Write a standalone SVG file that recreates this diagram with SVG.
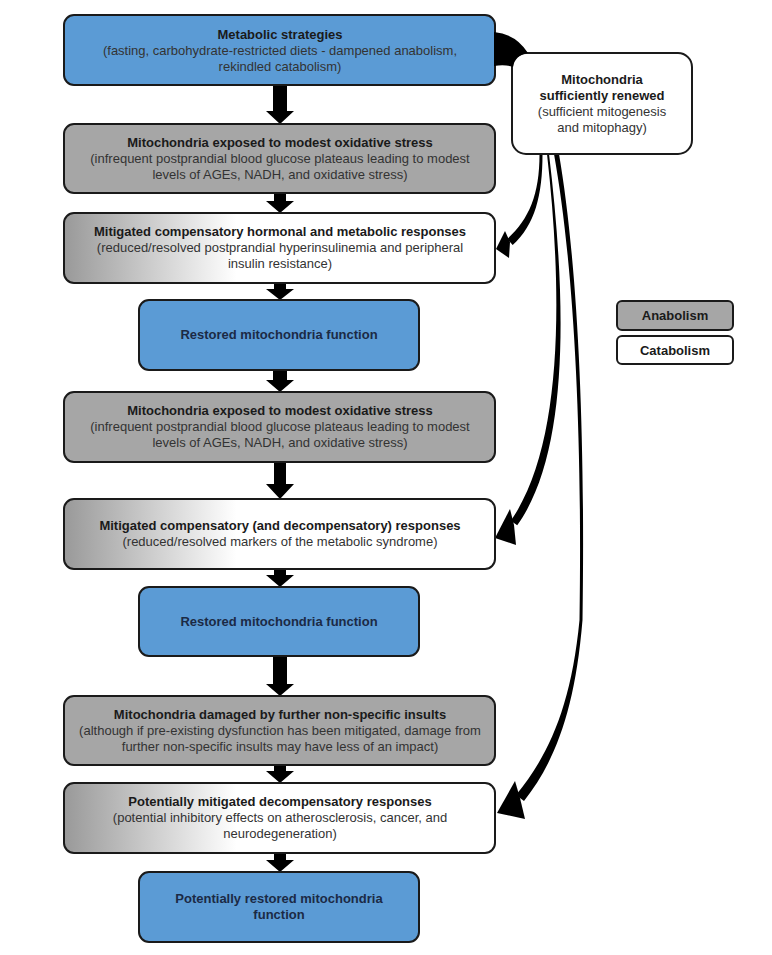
<svg xmlns="http://www.w3.org/2000/svg" width="772" height="955" viewBox="0 0 772 955">
<defs>
<linearGradient id="gr" x1="0" y1="0" x2="1" y2="0">
<stop offset="0" stop-color="#999999"/>
<stop offset="0.4" stop-color="#ffffff"/>
<stop offset="1" stop-color="#ffffff"/>
</linearGradient>
<style>
.box{stroke:#1a1a1a;stroke-width:2}
.blue{fill:#5b9bd5}
.gray{fill:#a6a6a6}
.grad{fill:url(#gr)}
.white{fill:#ffffff}
text{font-family:"Liberation Sans",Arial,sans-serif;font-size:13px;text-anchor:middle}
.t{font-weight:bold;fill:#1a1a1a}
.tb{font-weight:bold;fill:#1b2a45}
.s{fill:#333333}
.arr{fill:#000000}
</style>
</defs>
<rect width="772" height="955" fill="#ffffff"/>

<g id="connectors">
<!-- vertical arrows -->
<polygon class="arr" points="273,85 287,85 287,111 294,111 280,124 266,111 273,111"/>
<polygon class="arr" points="274,193 286,193 286,201 294,201 280,213 266,201 274,201"/>
<polygon class="arr" points="274,283 286,283 286,289 294,289 280,300 266,289 274,289"/>
<polygon class="arr" points="273,370 287,370 287,380 294,380 280,392 266,380 273,380"/>
<polygon class="arr" points="274,462 286,462 286,484 294,484 280,499 266,484 274,484"/>
<polygon class="arr" points="274,569 286,569 286,575 294,575 280,587 266,575 274,575"/>
<polygon class="arr" points="273,656 287,656 287,684 294,684 280,696 266,684 273,684"/>
<polygon class="arr" points="274,765 286,765 286,771 294,771 280,783 266,771 274,771"/>
<polygon class="arr" points="274,853 286,853 286,860 294,860 280,872 266,860 274,860"/>
<!-- curved arrow 1 -->
<path class="arr" d="M539.5,154 C539.5,195 529,219 507.3,239 L512.7,245 C535,225 542.5,195 542.5,154 Z"/>
<polygon class="arr" points="496,249 505,231 510,242 509,258"/>
<!-- curved arrow 2 -->
<path class="arr" d="M547,154 C563.5,300 562,448 510.8,520.7 L517.2,525.3 C570,452 566.5,300 549,154 Z"/>
<polygon class="arr" points="495,538 510,509 514,525 516,545"/>
<!-- curved arrow 3 -->
<path class="arr" d="M554,154 C573,260 582.5,420 579.5,620 C571,708 548,756 516,795 L524,801 C554,763 575,712 582.5,620 C585.5,420 577,260 559,154 Z"/>
<polygon class="arr" points="497,813 515,781 520,798 525,819"/>
</g>

<g id="n1">
<rect class="box blue" x="64" y="15" width="431" height="70" rx="10"/>
<text class="t" x="280" y="39">Metabolic strategies</text>
<text class="s" x="280" y="55">(fasting, carbohydrate-restricted diets - dampened anabolism,</text>
<text class="s" x="280" y="71">rekindled catabolism)</text>
</g>

<g id="n2">
<rect class="box gray" x="64" y="124" width="431" height="69" rx="10"/>
<text class="t" x="280" y="147">Mitochondria exposed to modest oxidative stress</text>
<text class="s" x="280" y="163">(infrequent postprandial blood glucose plateaus leading to modest</text>
<text class="s" x="280" y="179">levels of AGEs, NADH, and oxidative stress)</text>
</g>

<g id="n3">
<rect class="box grad" x="64" y="213" width="431" height="70" rx="10"/>
<text class="t" x="280" y="236">Mitigated compensatory hormonal and metabolic responses</text>
<text class="s" x="280" y="252">(reduced/resolved postprandial hyperinsulinemia and peripheral</text>
<text class="s" x="280" y="268">insulin resistance)</text>
</g>

<g id="n4">
<rect class="box blue" x="139" y="300" width="280" height="70" rx="10"/>
<text class="tb" x="279" y="339">Restored mitochondria function</text>
</g>

<g id="n5">
<rect class="box gray" x="64" y="392" width="431" height="70" rx="10"/>
<text class="t" x="280" y="415">Mitochondria exposed to modest oxidative stress</text>
<text class="s" x="280" y="431">(infrequent postprandial blood glucose plateaus leading to modest</text>
<text class="s" x="280" y="447">levels of AGEs, NADH, and oxidative stress)</text>
</g>

<g id="n6">
<rect class="box grad" x="64" y="499" width="431" height="70" rx="10"/>
<text class="t" x="280" y="530">Mitigated compensatory (and decompensatory) responses</text>
<text class="s" x="280" y="546">(reduced/resolved markers of the metabolic syndrome)</text>
</g>

<g id="n7">
<rect class="box blue" x="139" y="587" width="280" height="69" rx="10"/>
<text class="tb" x="279" y="626">Restored mitochondria function</text>
</g>

<g id="n8">
<rect class="box gray" x="64" y="696" width="431" height="69" rx="10"/>
<text class="t" x="280" y="719">Mitochondria damaged by further non-specific insults</text>
<text class="s" x="280" y="735">(although if pre-existing dysfunction has been mitigated, damage from</text>
<text class="s" x="280" y="751">further non-specific insults may have less of an impact)</text>
</g>

<g id="n9">
<rect class="box grad" x="64" y="783" width="431" height="70" rx="10"/>
<text class="t" x="280" y="806">Potentially mitigated decompensatory responses</text>
<text class="s" x="280" y="822">(potential inhibitory effects on atherosclerosis, cancer, and</text>
<text class="s" x="280" y="838">neurodegeneration)</text>
</g>

<g id="n10">
<rect class="box blue" x="139" y="872" width="280" height="70" rx="10"/>
<text class="tb" x="279" y="903">Potentially restored mitochondria</text>
<text class="tb" x="279" y="919">function</text>
</g>

<g id="n11">
<rect class="box white" x="512" y="53" width="180" height="101" rx="14"/>
<text class="t" x="602" y="84">Mitochondria</text>
<text class="t" x="602" y="100">sufficiently renewed</text>
<text class="s" x="602" y="116">(sufficient mitogenesis</text>
<text class="s" x="602" y="132">and mitophagy)</text>
</g>

<g id="link-top">
<path class="arr" d="M494,32 Q516,34 528,53 Q515,55 513,67 Q505,64 494,66 Z"/>
</g>

<g id="legend">
<g id="leg-anabolism">
<rect class="box gray" x="617" y="301" width="116" height="29" rx="5"/>
<text class="t" x="675" y="320">Anabolism</text>
</g>
<g id="leg-catabolism">
<rect class="box white" x="617" y="336" width="116" height="28" rx="5"/>
<text class="t" x="675" y="355">Catabolism</text>
</g>
</g>
</svg>
